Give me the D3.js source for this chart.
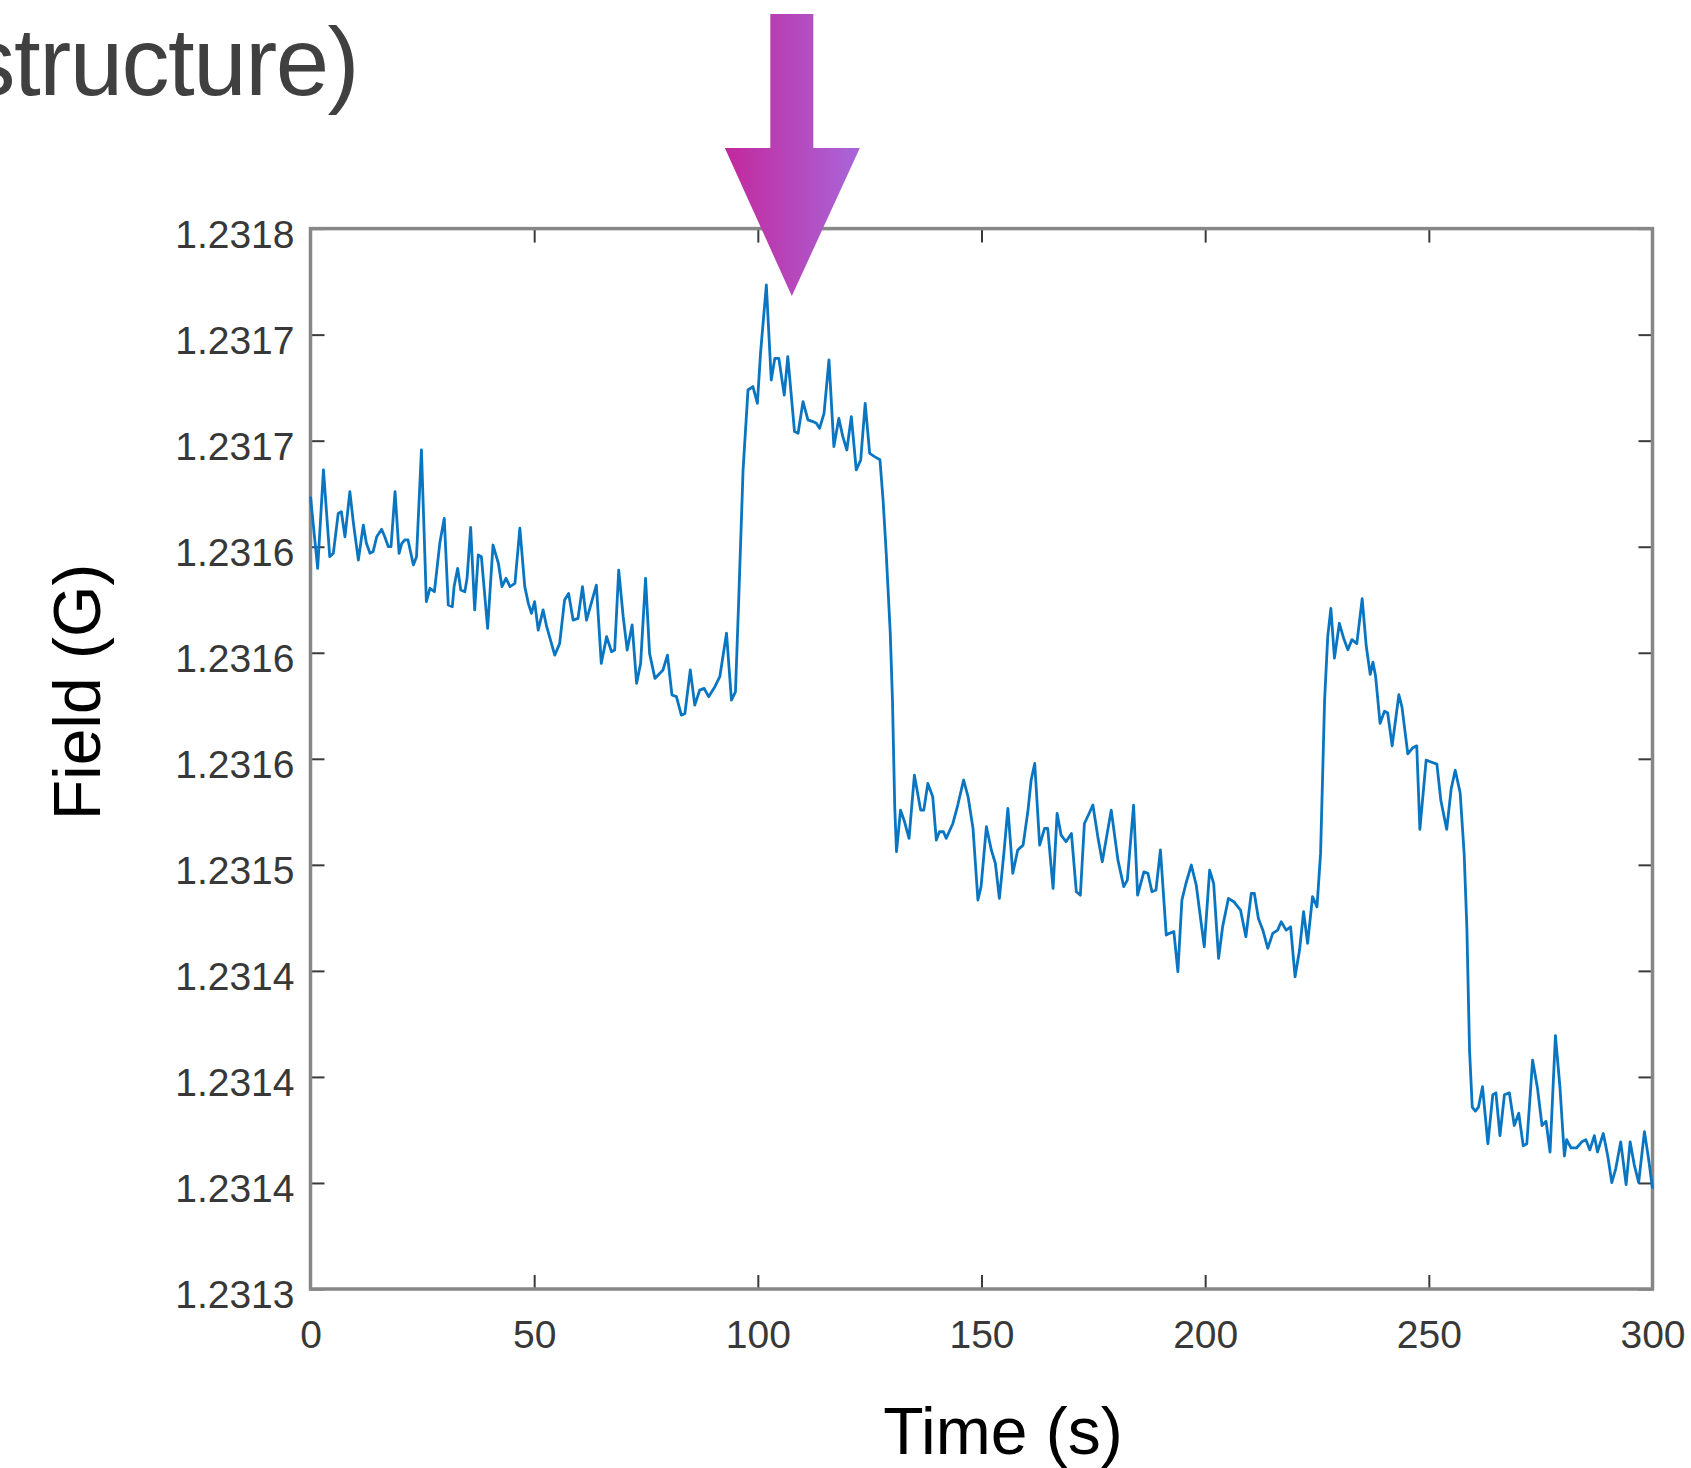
<!DOCTYPE html>
<html>
<head>
<meta charset="utf-8">
<script src="https://cdn.jsdelivr.net/npm/d3@7"></script>
<style>
  body { margin: 0; background: #fff; }
  svg { display: block; font-family: "Liberation Sans", Arial, sans-serif; }
</style>
</head>
<body>
<div class="chart"></div>
<script>
var width = 1691,
  height = 1468,
  plot = {left: 310.5, right: 1652.5, top: 228.6, bottom: 1289}

// axis ticks (MATLAB rounds the labels to 4 decimals)
var xTicks = [0, 50, 100, 150, 200, 250, 300]
var yTicks = [1.2313, 1.23135, 1.2314, 1.23145, 1.2315, 1.23155, 1.2316, 1.23165, 1.2317, 1.23175, 1.2318]
var yTickLabels = ['1.2313', '1.2314', '1.2314', '1.2314', '1.2315', '1.2316', '1.2316', '1.2316', '1.2317', '1.2317', '1.2318']

// field trace [time (s), field (G)]
var fieldTrace = [
  [0, 1.2316736], [1.6, 1.2316398], [2.9, 1.2316862], [4.3, 1.2316453], [5.1, 1.2316469],
  [6.2, 1.2316657], [6.9, 1.2316665], [7.7, 1.2316547], [8.8, 1.2316760], [9.6, 1.2316610],
  [10.7, 1.2316437], [11.8, 1.2316602], [12.5, 1.2316516], [13.3, 1.2316469], [14.0, 1.2316477],
  [14.8, 1.2316547], [15.9, 1.2316582], [16.6, 1.2316547], [17.4, 1.2316500], [18.0, 1.2316500],
  [18.9, 1.2316760], [19.8, 1.2316469], [20.4, 1.2316516], [21.1, 1.2316532], [21.8, 1.2316532],
  [23.0, 1.2316414], [23.7, 1.2316453], [24.8, 1.2316956], [25.9, 1.2316241], [26.7, 1.2316304],
  [27.7, 1.2316288], [28.9, 1.2316516], [29.9, 1.2316634], [30.8, 1.2316225], [31.7, 1.2316217],
  [32.1, 1.2316312], [32.9, 1.2316398], [33.6, 1.2316296], [34.5, 1.2316288], [35.0, 1.2316351],
  [35.8, 1.2316591], [36.7, 1.2316202], [37.5, 1.2316461], [38.2, 1.2316453], [39.6, 1.2316115],
  [40.8, 1.2316508], [42.0, 1.2316422], [42.8, 1.2316312], [43.7, 1.2316351], [44.6, 1.2316312],
  [45.7, 1.2316327], [46.8, 1.2316587], [47.9, 1.2316312], [48.7, 1.2316233], [49.4, 1.2316186],
  [50.1, 1.2316241], [50.9, 1.2316107], [52.0, 1.2316202], [52.8, 1.2316123], [54.6, 1.2315989],
  [55.7, 1.2316044], [56.8, 1.2316249], [57.7, 1.2316280], [58.7, 1.2316154], [59.8, 1.2316162],
  [60.8, 1.2316312], [61.7, 1.2316154], [63.9, 1.2316319], [65.0, 1.2315950], [66.2, 1.2316076],
  [67.3, 1.2316005], [68.0, 1.2316013], [68.9, 1.2316390], [69.9, 1.2316170], [70.8, 1.2316013],
  [71.9, 1.2316131], [72.9, 1.2315856], [73.8, 1.2315950], [74.9, 1.2316351], [75.8, 1.2315997],
  [77.0, 1.2315879], [78.1, 1.2315903], [78.8, 1.2315919], [79.8, 1.2315989], [80.8, 1.2315801],
  [81.8, 1.2315793], [82.9, 1.2315706], [83.7, 1.2315714], [84.9, 1.2315919], [85.9, 1.2315753],
  [87.0, 1.2315824], [88.0, 1.2315832], [89.0, 1.2315793], [90.4, 1.2315840], [91.5, 1.2315887],
  [93.0, 1.2316092], [94.1, 1.2315777], [95.0, 1.2315816], [95.7, 1.2316233], [96.7, 1.2316862],
  [97.8, 1.2317239], [98.9, 1.2317255], [99.9, 1.2317176], [100.6, 1.2317412], [101.9, 1.2317734],
  [103.0, 1.2317286], [103.8, 1.2317388], [104.7, 1.2317388], [105.9, 1.2317215], [106.7, 1.2317396],
  [108.2, 1.2317043], [109.0, 1.2317035], [110.1, 1.2317184], [111.2, 1.2317098], [112.3, 1.2317090],
  [113.1, 1.2317082], [113.8, 1.2317058], [114.8, 1.2317129], [115.9, 1.2317381], [117.0, 1.2316972],
  [118.1, 1.2317105], [119.0, 1.2317019], [119.9, 1.2316956], [120.9, 1.2317113], [122.0, 1.2316862],
  [123.0, 1.2316909], [124.0, 1.2317176], [125.0, 1.2316940], [126.1, 1.2316925], [127.3, 1.2316910],
  [128.0, 1.2316720], [128.7, 1.2316470], [129.6, 1.2316095], [130.1, 1.2315775], [130.6, 1.2315275],
  [131.0, 1.2315062], [131.9, 1.2315258], [132.8, 1.2315203], [133.8, 1.2315125], [135.0, 1.2315423],
  [136.4, 1.2315258], [137.1, 1.2315258], [138.0, 1.2315384], [139.1, 1.2315321], [139.9, 1.2315117],
  [140.6, 1.2315156], [141.5, 1.2315156], [142.1, 1.2315125], [143.6, 1.2315195], [144.7, 1.2315282],
  [146.0, 1.2315400], [147.0, 1.2315321], [148.1, 1.2315172], [149.2, 1.2314834], [149.9, 1.2314897],
  [151.1, 1.2315180], [152.2, 1.2315070], [153.1, 1.2315007], [154.0, 1.2314842], [155.0, 1.2315054],
  [155.9, 1.2315266], [157.0, 1.2314960], [158.1, 1.2315070], [159.3, 1.2315093], [160.4, 1.2315258],
  [161.1, 1.2315400], [161.9, 1.2315478], [163.0, 1.2315093], [164.1, 1.2315172], [164.8, 1.2315172],
  [166.0, 1.2314889], [166.9, 1.2315243], [167.8, 1.2315140], [168.9, 1.2315109], [170.1, 1.2315148],
  [171.2, 1.2314873], [172.1, 1.2314857], [173.0, 1.2315195], [173.9, 1.2315235], [174.9, 1.2315282],
  [176.0, 1.2315133], [177.0, 1.2315015], [179.0, 1.2315258], [180.5, 1.2315022], [181.8, 1.2314897],
  [182.6, 1.2314928], [184.0, 1.2315282], [184.9, 1.2314857], [186.3, 1.2314967], [187.2, 1.2314960],
  [188.1, 1.2314873], [189.0, 1.2314881], [190.0, 1.2315070], [191.3, 1.2314669], [192.0, 1.2314677],
  [193.0, 1.2314685], [193.9, 1.2314496], [194.8, 1.2314834], [195.7, 1.2314912], [196.9, 1.2314999],
  [198.0, 1.2314905], [199.8, 1.2314614], [201.0, 1.2314975], [201.9, 1.2314912], [203.0, 1.2314559],
  [203.9, 1.2314708], [205.2, 1.2314842], [206.4, 1.2314826], [207.9, 1.2314787], [209.1, 1.2314661],
  [210.3, 1.2314865], [211.0, 1.2314865], [211.9, 1.2314747], [212.9, 1.2314692], [214.0, 1.2314606],
  [215.1, 1.2314677], [216.2, 1.2314692], [217.0, 1.2314732], [218.1, 1.2314692], [219.1, 1.2314708],
  [220.1, 1.2314472], [221.1, 1.2314598], [222.0, 1.2314779], [222.9, 1.2314630], [224.0, 1.2314850],
  [225.0, 1.2314802], [225.8, 1.2315054], [226.7, 1.2315777], [227.4, 1.2316076], [228.1, 1.2316209],
  [228.9, 1.2315975], [230.0, 1.2316139], [230.9, 1.2316072], [231.9, 1.2316014], [232.8, 1.2316062],
  [233.9, 1.2316043], [235.1, 1.2316255], [236.0, 1.2316033], [236.9, 1.2315898], [237.5, 1.2315956],
  [238.1, 1.2315889], [239.1, 1.2315667], [240.1, 1.2315725], [240.8, 1.2315716], [241.8, 1.2315561],
  [243.3, 1.2315802], [244.0, 1.2315744], [245.3, 1.2315523], [246.4, 1.2315552], [247.3, 1.2315561],
  [248.0, 1.2315167], [249.4, 1.2315494], [250.5, 1.2315485], [251.8, 1.2315475], [252.7, 1.2315302],
  [254.0, 1.2315167], [255.0, 1.2315359], [255.9, 1.2315446], [257.0, 1.2315340], [257.9, 1.2315051],
  [258.5, 1.2314705], [259.1, 1.2314127], [259.7, 1.2313858], [260.4, 1.2313839], [261.1, 1.2313858],
  [262.0, 1.2313954], [263.2, 1.2313685], [264.3, 1.2313916], [265.0, 1.2313925], [265.9, 1.2313723],
  [266.9, 1.2313916], [268.0, 1.2313925], [269.1, 1.2313771], [270.1, 1.2313829], [271.1, 1.2313675],
  [271.9, 1.2313685], [273.2, 1.2314079], [274.3, 1.2313945], [275.3, 1.2313771], [276.2, 1.2313791],
  [277.1, 1.2313646], [278.3, 1.2314195], [279.3, 1.2313954], [280.3, 1.2313627], [280.8, 1.2313704],
  [281.8, 1.2313665], [283.0, 1.2313665], [284.2, 1.2313694], [285.1, 1.2313704], [286.0, 1.2313656],
  [287.0, 1.2313723], [287.7, 1.2313646], [289.0, 1.2313733], [290.0, 1.2313627], [290.9, 1.2313502],
  [291.8, 1.2313569], [292.9, 1.2313694], [294.1, 1.2313492], [295.0, 1.2313694], [295.9, 1.2313588],
  [296.9, 1.2313502], [298.2, 1.2313742], [299.1, 1.2313617], [300.0, 1.2313473]
]

var svg = d3.select('.chart')
  .append('svg')
  .attr('width', width)
  .attr('height', height)

// slide title, cut off at the left edge like in the slide
svg.append('text')
  .attr('x', 358)
  .attr('y', 95)
  .attr('text-anchor', 'end')
  .attr('font-size', 96)
  .attr('letter-spacing', -1.5)
  .attr('fill', '#404040')
  .text('structure)')

var xScale = d3.scaleLinear()
  .domain([0, 300])
  .range([plot.left, plot.right])

var yScale = d3.scaleLinear()
  .domain([1.2313, 1.2318])
  .range([plot.bottom, plot.top])

// AXES (ticks point inwards, box drawn separately)
function styleAxis(g) {
  g.select('.domain').remove()
  g.selectAll('.tick line').attr('stroke', '#3a3a3a').attr('stroke-width', 2)
  g.selectAll('.tick text').attr('fill', '#383838').attr('font-size', 39)
}

svg.append('g')
  .attr('transform', 'translate(0,' + plot.bottom + ')')
  .call(d3.axisBottom(xScale).tickValues(xTicks).tickSizeInner(-14).tickSizeOuter(0).tickPadding(31))
  .call(styleAxis)
  .attr('font-family', null)

svg.append('g')
  .attr('transform', 'translate(0,' + plot.top + ')')
  .call(d3.axisTop(xScale).tickValues(xTicks).tickSizeInner(-14).tickSizeOuter(0).tickFormat(''))
  .call(styleAxis)

svg.append('g')
  .attr('transform', 'translate(' + plot.left + ',0)')
  .call(d3.axisLeft(yScale).tickValues(yTicks).tickSizeInner(-14).tickSizeOuter(0).tickPadding(16)
    .tickFormat(function(d, i) { return yTickLabels[i] }))
  .call(styleAxis)
  .attr('font-family', null)
  .selectAll('.tick text').attr('dy', '0.48em')

svg.append('g')
  .attr('transform', 'translate(' + plot.right + ',0)')
  .call(d3.axisRight(yScale).tickValues(yTicks).tickSizeInner(-14).tickSizeOuter(0).tickFormat(''))
  .call(styleAxis)

// box
svg.append('rect')
  .attr('x', plot.left)
  .attr('y', plot.top)
  .attr('width', plot.right - plot.left)
  .attr('height', plot.bottom - plot.top)
  .attr('fill', 'none')
  .attr('stroke', '#878787')
  .attr('stroke-width', 3.5)

// LINE
var line = d3.line()
  .x(function(d) { return xScale(d[0]) })
  .y(function(d) { return yScale(d[1]) })

svg.append('path')
  .datum(fieldTrace)
  .attr('d', line)
  .attr('fill', 'none')
  .attr('stroke', '#0a75c0')
  .attr('stroke-width', 2.8)
  .attr('stroke-linejoin', 'round')

// axis labels
svg.append('text')
  .attr('x', 1003)
  .attr('y', 1454)
  .attr('text-anchor', 'middle')
  .attr('font-size', 66)
  .attr('fill', '#000')
  .text('Time (s)')

svg.append('text')
  .attr('transform', 'translate(100,692) rotate(-90)')
  .attr('text-anchor', 'middle')
  .attr('font-size', 66)
  .attr('fill', '#000')
  .text('Field (G)')

// arrow pointing at the peak
var grad = svg.append('defs').append('linearGradient')
  .attr('id', 'arrowGrad')
  .attr('gradientUnits', 'userSpaceOnUse')
  .attr('x1', 724).attr('x2', 860).attr('y1', 0).attr('y2', 0)
grad.append('stop').attr('offset', 0).attr('stop-color', '#c2289c')
grad.append('stop').attr('offset', 1).attr('stop-color', '#a966da')

var arrowX = xScale(107.6)
svg.append('path')
  .attr('d', 'M' + (arrowX - 21.5) + ',14 H' + (arrowX + 21.5) + ' V148 H' + (arrowX + 68) +
    ' L' + arrowX + ',296 L' + (arrowX - 67) + ',148 H' + (arrowX - 21.5) + ' Z')
  .attr('fill', 'url(#arrowGrad)')
</script>
</body>
</html>
